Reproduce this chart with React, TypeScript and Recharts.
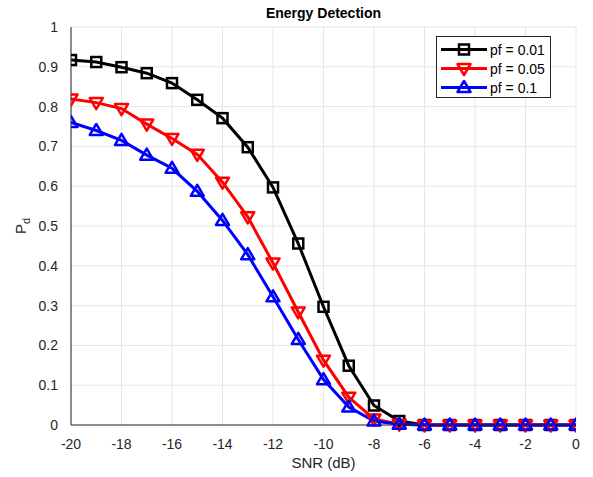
import React from "react";
import { LineChart, Line, XAxis, YAxis, CartesianGrid } from "recharts";

const snr = [-20, -19, -18, -17, -16, -15, -14, -13, -12, -11, -10, -9, -8, -7, -6, -5, -4, -3, -2, -1, 0];
const pf001 = [0.917, 0.912, 0.899, 0.884, 0.859, 0.817, 0.771, 0.698, 0.597, 0.456, 0.297, 0.149, 0.049, 0.01, 0, 0, 0, 0, 0, 0, 0];
const pf005 = [0.819, 0.81, 0.795, 0.756, 0.72, 0.68, 0.61, 0.523, 0.407, 0.284, 0.163, 0.07, 0.015, 0.002, 0, 0, 0, 0, 0, 0, 0];
const pf01 = [0.76, 0.74, 0.715, 0.678, 0.645, 0.587, 0.514, 0.428, 0.322, 0.215, 0.114, 0.045, 0.01, 0.002, 0, 0, 0, 0, 0, 0, 0];
const xTicks = [-20, -18, -16, -14, -12, -10, -8, -6, -4, -2, 0];
const yTicks = [0, 0.1, 0.2, 0.3, 0.4, 0.5, 0.6, 0.7, 0.8, 0.9, 1];

const data = snr.map((s, i) => ({ snr: s, a: pf001[i], b: pf005[i], c: pf01[i] }));

const font = '"Liberation Sans", Arial, Helvetica, sans-serif';

const square = (p: any) => (
  <rect key={`s${p.index}`} x={p.cx - 5} y={p.cy - 5} width={10} height={10} fill="none" stroke="#000" strokeWidth={2.5} />
);
const down = (p: any) => (
  <polygon
    key={`d${p.index}`}
    points={`${p.cx - 6.5},${p.cy - 4.5} ${p.cx + 6.5},${p.cy - 4.5} ${p.cx},${p.cy + 6.5}`}
    fill="none"
    stroke="#ff0000"
    strokeWidth={2.5}
    strokeLinejoin="round"
  />
);
const up = (p: any) => (
  <polygon
    key={`u${p.index}`}
    points={`${p.cx - 6.5},${p.cy + 4.5} ${p.cx + 6.5},${p.cy + 4.5} ${p.cx},${p.cy - 6.5}`}
    fill="none"
    stroke="#0000ff"
    strokeWidth={2.5}
    strokeLinejoin="round"
  />
);

const legendItems = [
  { label: "pf = 0.01", color: "#000", marker: square },
  { label: "pf = 0.05", color: "#ff0000", marker: down },
  { label: "pf = 0.1", color: "#0000ff", marker: up },
];

export default function App() {
  return (
    <div style={{ position: "absolute", left: 0, top: 0, width: 593, height: 477, background: "#fff", fontFamily: font }}>
      <LineChart width={593} height={477} data={data} margin={{ top: 27, right: 17, bottom: 22, left: 31 }}>
        <CartesianGrid stroke="#e6e6e6" strokeWidth={1} horizontalValues={yTicks} verticalValues={xTicks} />
        <XAxis
          dataKey="snr"
          type="number"
          domain={[-20, 0]}
          ticks={xTicks}
          height={30}
          stroke="#262626"
          tickLine={false}
          tickMargin={8}
          tick={{ fill: "#262626", fontSize: 14, fontFamily: font }}
          allowDataOverflow
        />
        <YAxis
          type="number"
          domain={[0, 1]}
          ticks={yTicks}
          width={40}
          stroke="#262626"
          tickLine={false}
          tickMargin={7}
          tick={{ fill: "#262626", fontSize: 14, fontFamily: font }}
          tickFormatter={(v: number) => String(Math.round(v * 10) / 10)}
        />
        <Line dataKey="a" stroke="#000" strokeWidth={3} dot={square} isAnimationActive={false} />
        <Line dataKey="b" stroke="#ff0000" strokeWidth={3} dot={down} isAnimationActive={false} />
        <Line dataKey="c" stroke="#0000ff" strokeWidth={3} dot={up} isAnimationActive={false} />
      </LineChart>

      <div style={{ position: "absolute", left: 0, width: 593, top: 5, textAlign: "center", paddingLeft: 54, boxSizing: "border-box", fontSize: 14, fontWeight: "bold", color: "#000" }}>
        Energy Detection
      </div>
      <div style={{ position: "absolute", left: 71, width: 505, top: 454, textAlign: "center", fontSize: 15, color: "#262626" }}>
        SNR (dB)
      </div>
      <div
        style={{
          position: "absolute",
          left: 22,
          top: 226,
          transform: "translate(-50%, -50%) rotate(-90deg)",
          fontSize: 15,
          color: "#262626",
          whiteSpace: "nowrap",
        }}
      >
        P<sub style={{ fontSize: 11 }}>d</sub>
      </div>

      <div
        style={{
          position: "absolute",
          left: 436,
          top: 36,
          width: 115,
          height: 62,
          boxSizing: "border-box",
          border: "1px solid #262626",
          background: "#fff",
        }}
      >
        {legendItems.map((it, i) => (
          <div key={it.label} style={{ position: "absolute", left: 0, top: 3 + i * 19, height: 19, display: "flex", alignItems: "center" }}>
            <svg width={52} height={19}>
              <line x1={4} y1={9.5} x2={50} y2={9.5} stroke={it.color} strokeWidth={3} />
              {it.marker({ cx: 27, cy: 9.5, index: i })}
            </svg>
            <span style={{ fontSize: 14, color: "#000", marginLeft: 1 }}>{it.label}</span>
          </div>
        ))}
      </div>
    </div>
  );
}
